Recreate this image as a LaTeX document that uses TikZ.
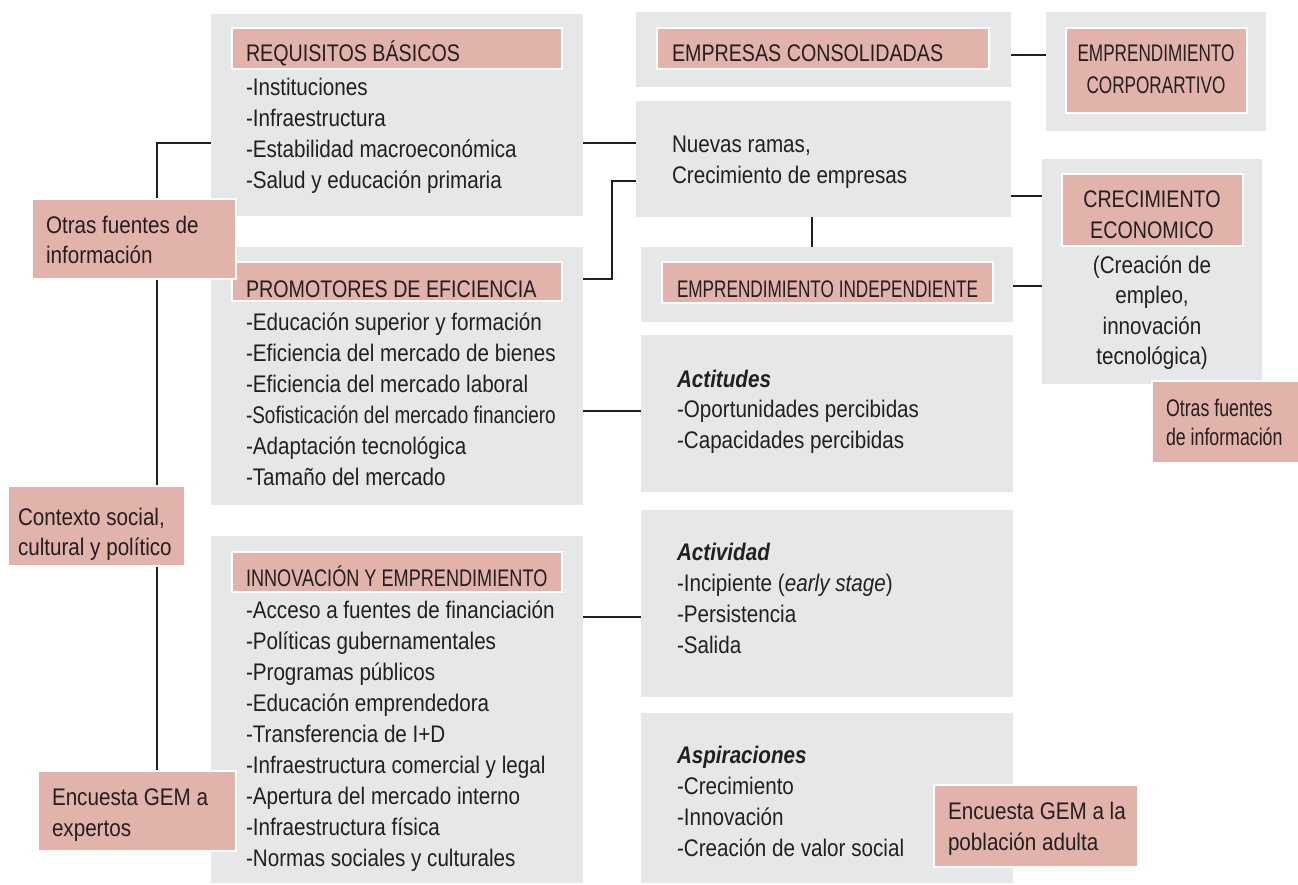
\documentclass[tikz,border=0pt]{standalone}
\usepackage{fontspec}
\setmainfont[FakeStretch=0.86]{Liberation Sans}
\newfontfamily\capfont[FakeStretch=0.82]{Liberation Sans}
\newfontfamily\condfont[FakeStretch=0.715]{Liberation Sans}
\newfontfamily\condfontb[FakeStretch=0.755]{Liberation Sans}
\newfontfamily\tightfont[FakeStretch=0.79]{Liberation Sans}
\newfontfamily\sidefont[FakeStretch=0.74]{Liberation Sans}
\definecolor{boxgray}{HTML}{E6E7E8}
\definecolor{boxpink}{HTML}{E2B3AB}
\definecolor{ink}{HTML}{231F20}
\tikzset{
  graybox/.style={fill=boxgray, draw=none, inner sep=0pt, outer sep=0pt, anchor=north west},
  pinkbox/.style={fill=boxpink, draw=white, line width=2pt, inner sep=0pt, outer sep=0pt, anchor=north west},
  txt/.style={inner sep=0pt, outer sep=0pt, anchor=base west, align=left, text=ink, font=\fontsize{24}{31}\selectfont},
  captxt/.style={txt, font=\fontsize{24}{31}\capfont},
  ctxt/.style={txt, align=center, anchor=base},
  conn/.style={draw=ink, line width=2.5pt}
}
\begin{document}
\begin{tikzpicture}[x=1pt,y=-1pt]
\useasboundingbox (0,0) rectangle (1298,884);

% gray boxes
\node[graybox, minimum width=372, minimum height=202] (req) at (211,14) {};
\node[graybox, minimum width=372, minimum height=258] (prom) at (211,247) {};
\node[graybox, minimum width=372, minimum height=347] (innov) at (211,536) {};
\node[graybox, minimum width=375, minimum height=75] (empc) at (636,12) {};
\node[graybox, minimum width=375, minimum height=116] (nuevas) at (636,101) {};
\node[graybox, minimum width=372, minimum height=75] (indep) at (641,247) {};
\node[graybox, minimum width=372, minimum height=157] (acti) at (641,335) {};
\node[graybox, minimum width=372, minimum height=187] (activ) at (641,510) {};
\node[graybox, minimum width=372, minimum height=170] (aspir) at (641,713) {};
\node[graybox, minimum width=220, minimum height=119] (corpg) at (1046,12) {};
\node[graybox, minimum width=220, minimum height=225] (crecg) at (1042,159) {};

% connectors
\coordinate (lt) at (157,143);
\coordinate (pk) at (612,279);
\draw[conn] (req.west |- lt) -- (lt) -- (lt |- 0,771);
\draw[conn] (req.east |- 0,143) -- (nuevas.west |- 0,143);
\draw[conn] (prom.east |- pk) -- (pk) -- (pk |- 0,181) -- (nuevas.west |- 0,181);
\draw[conn] (empc.east |- 0,55) -- (corpg.west |- 0,55);
\draw[conn] (nuevas.east |- 0,196) -- (crecg.west |- 0,196);
\draw[conn] (nuevas.south -| 812,0) -- (indep.north -| 812,0);
\draw[conn] (indep.east |- 0,286) -- (crecg.west |- 0,286);
\draw[conn] (prom.east |- 0,411) -- (acti.west |- 0,411);
\draw[conn] (innov.east |- 0,617) -- (activ.west |- 0,617);

% pink boxes
\node[pinkbox, minimum width=330, minimum height=41] (reqh) at (232,28) {};
\node[pinkbox, minimum width=330, minimum height=39] (promh) at (232,262) {};
\node[pinkbox, minimum width=330, minimum height=40] (innovh) at (232,552) {};
\node[pinkbox, minimum width=332, minimum height=41] (empch) at (657,28) {};
\node[pinkbox, minimum width=331, minimum height=41] (indeph) at (662,262) {};
\node[pinkbox, minimum width=181, minimum height=85] (corph) at (1066,28) {};
\node[pinkbox, minimum width=181, minimum height=72] (crech) at (1062,174) {};
\node[pinkbox, minimum width=204, minimum height=80] (otras1) at (32,199) {};
\node[pinkbox, minimum width=177, minimum height=80] (contexto) at (8,486) {};
\node[pinkbox, minimum width=198, minimum height=80] (encexp) at (38,771) {};
\node[pinkbox, minimum width=150, minimum height=82] (otras2) at (1152,381) {};
\node[pinkbox, minimum width=204, minimum height=82] (encpob) at (934,785) {};

% texts (anchor = baseline of the last line)
\node[captxt] (reqht) at (246,61) {REQUISITOS BÁSICOS};
\node[txt] (reqt) at (246,188) {-Instituciones\\-Infraestructura\\-Estabilidad macroeconómica\\-Salud y educación primaria};
\node[captxt] (promht) at (246,297) {PROMOTORES DE EFICIENCIA};
\node[txt] (promt) at (246,485) {-Educación superior y formación\\-Eficiencia del mercado de bienes\\-Eficiencia del mercado laboral\\{\tightfont -Sofisticación del mercado financiero}\\-Adaptación tecnológica\\-Tamaño del mercado};
\node[txt, font=\fontsize{24}{31}\condfontb] (innovht) at (246,586) {INNOVACIÓN Y EMPRENDIMIENTO};
\node[txt] (innovt) at (246,866) {-Acceso a fuentes de financiación\\-Políticas gubernamentales\\-Programas públicos\\-Educación emprendedora\\-Transferencia de I+D\\-Infraestructura comercial y legal\\-Apertura del mercado interno\\-Infraestructura física\\-Normas sociales y culturales};
\node[captxt] (empcht) at (672,61) {EMPRESAS CONSOLIDADAS};
\node[txt] (nuevast) at (672,183) {Nuevas ramas,\\Crecimiento de empresas};
\node[txt, font=\fontsize{24}{31}\condfont] (indepht) at (677,297) {EMPRENDIMIENTO INDEPENDIENTE};
\node[txt, font=\fontsize{24}{30.5}\selectfont] (actit) at (677,448) {\textbf{\textit{Actitudes}}\\-Oportunidades percibidas\\-Capacidades percibidas};
\node[txt] (activt) at (677,653) {\textbf{\textit{Actividad}}\\-Incipiente (\textit{early stage})\\-Persistencia\\-Salida};
\node[txt] (aspirt) at (677,856) {\textbf{\textit{Aspiraciones}}\\-Crecimiento\\-Innovación\\-Creación de valor social};
\node[ctxt, font=\fontsize{24}{32}\condfont] (corpht) at (1156,93) {EMPRENDIMIENTO\\CORPORARTIVO};
\node[ctxt, font=\fontsize{24}{31}\capfont] (crecht) at (1152,238) {CRECIMIENTO\\ECONOMICO};
\node[ctxt, font=\fontsize{24}{30.5}\selectfont] (crect) at (1152,364.5) {(Creación de\\empleo,\\innovación\\tecnológica)};
\node[txt, font=\fontsize{24}{30}\selectfont] (otras1t) at (46,263) {Otras fuentes de\\información};
\node[txt, font=\fontsize{24}{30}\selectfont] (contt) at (18,555) {Contexto social,\\cultural y político};
\node[txt] (encexpt) at (52,836) {Encuesta GEM a\\expertos};
\node[txt, font=\fontsize{24}{29}\sidefont] (otras2t) at (1166,445) {Otras fuentes\\de información};
\node[txt] (encpobt) at (948,850) {Encuesta GEM a la\\población adulta};
\end{tikzpicture}
\end{document}
